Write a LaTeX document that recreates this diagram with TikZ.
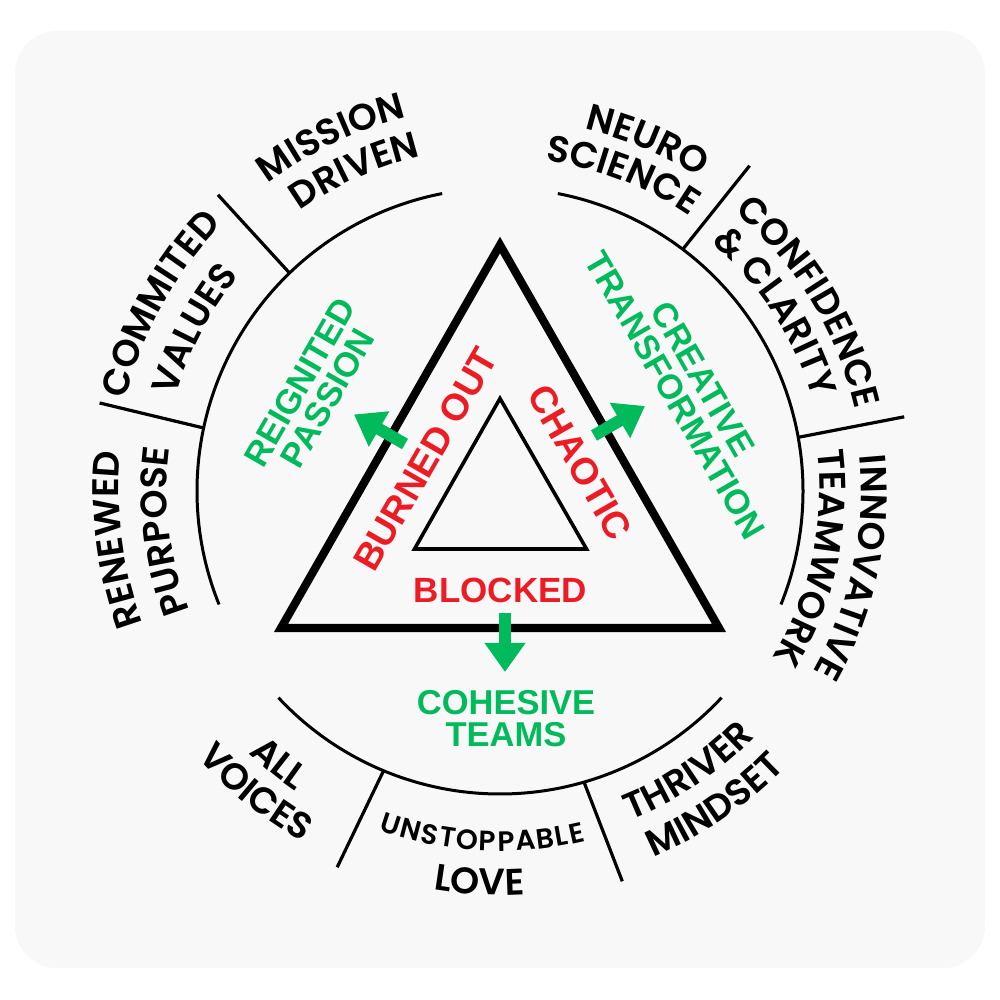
\documentclass[tikz,border=0pt]{standalone}
\usepackage{fontspec}
\setmainfont{Liberation Sans}
\newfontfamily\ringfont{Poppins SemiBold}
\usetikzlibrary{decorations.text,arrows.meta}
\definecolor{bggray}{HTML}{F8F8F8}
\definecolor{rred}{HTML}{ED1C24}
\definecolor{ggreen}{HTML}{00BA5C}
% clockwise text, tops outward: radius, centre angle, size, text
\newcommand\ringcw[4]{%
  \path[decorate,decoration={text along path,text align=center,
    text={|\ringfont\fontsize{#3}{#3}\selectfont|#4}}]
    (#2+40:#1) arc[start angle=#2+40,end angle=#2-40,radius=#1pt];}
% counter-clockwise text, tops inward
\newcommand\ringccw[4]{%
  \path[decorate,decoration={text along path,text align=center,
    text={|\ringfont\fontsize{#3}{#3}\selectfont|#4}}]
    (#2-40:#1) arc[start angle=#2-40,end angle=#2+40,radius=#1pt];}
\tikzset{
  ringline/.style={line width=3pt},
  tickline/.style={line width=3.2pt},
  redlbl/.style={text=rred,inner sep=0pt,font=\bfseries\fontsize{37.5}{37.5}\selectfont},
  greenlbl/.style={text=ggreen,inner sep=0pt,align=center,font=\bfseries\fontsize{34.5}{32}\selectfont},
  garrow/.style={ggreen,line width=12pt,-{Triangle[width=39pt,length=29pt]}}
}
\begin{document}
\begin{tikzpicture}[x=1pt,y=1pt]
\useasboundingbox (0,0) rectangle (1000,1000);
\fill[white] (0,0) rectangle (1000,1000);
\fill[bggray,rounded corners=42pt] (15,32) rectangle (985,969);
\coordinate (C) at (500,509);
\begin{scope}[shift={(C)}]
  % ring
  \draw[ringline] (101:303) arc[start angle=101,end angle=202,radius=303pt];
  \draw[ringline] (223:303) arc[start angle=223,end angle=317,radius=303pt];
  \draw[ringline] (338:303) arc[start angle=338,end angle=439,radius=303pt];
  % ticks
  \draw[tickline] (134:303) -- (133.6:409);
  \draw[tickline] (168:303) -- (167.6:410);
  \draw[tickline] (52.9:303) -- (52.5:410);
  \draw[tickline] (10.2:303) -- (10.4:411);
  \draw[tickline] (247.4:303) -- (246.6:410);
  \draw[tickline] (286.1:303) -- (287.4:409);
  % outer ring labels
  \ringcw{385}{115.5}{37}{MISSION}
  \ringcw{344}{114.4}{37}{DRIVEN}
  \ringcw{371.5}{67.2}{37}{NEURO}
  \ringcw{333.5}{68.8}{37}{SCIENCE}
  \ringcw{385}{151.2}{37}{COMMITED}
  \ringcw{338}{152.1}{37}{VALUES}
  \ringcw{381}{187.2}{37}{RENEWED}
  \ringcw{333}{186.8}{37}{PURPOSE}
  \ringcw{364.5}{31.5}{37}{CONFIDENCE}
  \ringcw{326}{33}{37}{{\&} CLARITY}
  \ringcw{361}{-12.2}{37}{INNOVATIVE}
  \ringcw{319.5}{-12.1}{37}{TEAMWORK}
  \ringccw{363}{231}{37}{ALL}
  \ringccw{403}{231}{37}{VOICES}
  \ringccw{360}{267}{28}{U{\kern1.5pt}N{\kern1.5pt}S{\kern1.5pt}T{\kern1.5pt}O{\kern1.5pt}P{\kern1.5pt}P{\kern1.5pt}A{\kern1.5pt}B{\kern1.5pt}L{\kern1.5pt}E}
  \ringccw{404}{267}{37}{LOVE}
  \ringccw{354}{303.8}{37}{THRIVER}
  \ringccw{397}{304.3}{37}{MINDSET}
\end{scope}
% triangles
\coordinate (A) at (500,755);
\coordinate (BL) at (281,372);
\coordinate (BR) at (719,372);
\draw[line width=8.2pt,miter limit=10] (A) -- (BL) -- (BR) -- cycle;
\coordinate (iA) at (500,601.5);
\coordinate (iBL) at (414.5,451);
\coordinate (iBR) at (586.5,451);
\draw[line width=3.6pt,miter limit=10] (iA) -- (iBL) -- (iBR) -- cycle;
% red labels
\node[redlbl,rotate=60] (burned) at (425.75,540.75) {BURNED OUT};
\node[redlbl,rotate=-60] (chaotic) at (580,537.5) {CHAOTIC};
\node[redlbl,font=\bfseries\fontsize{35}{35}\selectfont] (blocked) at (500.5,409.5) {BLOCKED};
% green labels
\node[greenlbl,rotate=60] (reignited) at (314,610) {REIGNITED\\PASSION};
\node[greenlbl,rotate=-60] (creative) at (689,613) {CREATIVE\\TRANSFORMATION};
\node[greenlbl] (cohesive) at (506,281.5) {COHESIVE\\TEAMS};
% arrows
\coordinate (t1) at (405,556);
\coordinate (h1) at (354,585.5);
\coordinate (t2) at (594,564.5);
\coordinate (h2) at (645,594);
\coordinate (t3) at (505,387);
\coordinate (h3) at (505,328);
\draw[garrow] (t1) -- (h1);
\draw[garrow] (t2) -- (h2);
\draw[garrow] (t3) -- (h3);
\end{tikzpicture}
\end{document}
